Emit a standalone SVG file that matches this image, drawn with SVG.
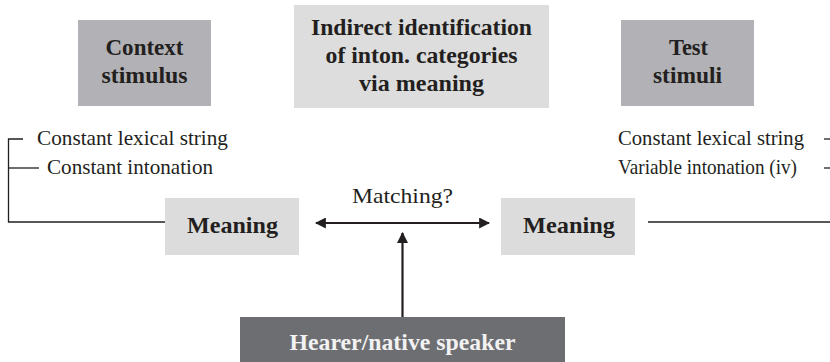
<svg xmlns="http://www.w3.org/2000/svg" width="830" height="362" viewBox="0 0 830 362">
<defs>
<style>
.hd{font-family:"Liberation Serif","Times New Roman",serif;font-weight:bold;font-size:23.5px;fill:#231f20;text-anchor:middle}
.mn{font-family:"Liberation Serif","Times New Roman",serif;font-weight:bold;font-size:23.5px;fill:#231f20;text-anchor:middle}
.bd{font-family:"Liberation Serif","Times New Roman",serif;font-size:21px;fill:#231f20}
.ln{stroke:#231f20;stroke-width:1.3;fill:none}
.ar{stroke:#231f20;stroke-width:2.2;fill:none}
</style>
<marker id="ah" viewBox="0 0 10 10" refX="9" refY="5" markerWidth="5" markerHeight="5" orient="auto-start-reverse" markerUnits="strokeWidth">
<path d="M0,0 L10,5 L0,10 z" fill="#231f20"/>
</marker>
</defs>
<rect width="830" height="362" fill="#ffffff"/>
<g id="context">
<rect x="78" y="20" width="133" height="86" fill="#b2b2b6"/>
<text class="hd" x="144.5" y="55" textLength="78" lengthAdjust="spacingAndGlyphs">Context</text>
<text class="hd" x="144.5" y="83" textLength="86" lengthAdjust="spacingAndGlyphs">stimulus</text>
</g>
<g id="title">
<rect x="294" y="5" width="255" height="103" fill="#dddddd"/>
<text class="hd" x="421.5" y="35" textLength="221" lengthAdjust="spacingAndGlyphs">Indirect identification</text>
<text class="hd" x="421.5" y="63" textLength="192" lengthAdjust="spacingAndGlyphs">of inton. categories</text>
<text class="hd" x="421.5" y="91" textLength="125" lengthAdjust="spacingAndGlyphs">via meaning</text>
</g>
<g id="test">
<rect x="621" y="20" width="133" height="86" fill="#b2b2b6"/>
<text class="hd" x="688.5" y="55" textLength="39" lengthAdjust="spacingAndGlyphs">Test</text>
<text class="hd" x="687.5" y="83" textLength="69" lengthAdjust="spacingAndGlyphs">stimuli</text>
</g>
<g id="left-labels">
<text class="bd" x="37" y="145" textLength="191" lengthAdjust="spacingAndGlyphs">Constant lexical string</text>
<text class="bd" x="47" y="174" textLength="166" lengthAdjust="spacingAndGlyphs">Constant intonation</text>
</g>
<g id="right-labels">
<text class="bd" x="618" y="145" textLength="186" lengthAdjust="spacingAndGlyphs">Constant lexical string</text>
<text class="bd" x="618" y="174" textLength="179" lengthAdjust="spacingAndGlyphs">Variable intonation (iv)</text>
</g>
<g id="meaning-left">
<rect x="165" y="198" width="134" height="57" fill="#dcdcdc"/>
<text class="mn" x="232.5" y="233" textLength="91" lengthAdjust="spacingAndGlyphs">Meaning</text>
</g>
<g id="meaning-right">
<rect x="501" y="198" width="134" height="57" fill="#dcdcdc"/>
<text class="mn" x="569" y="233" textLength="92" lengthAdjust="spacingAndGlyphs">Meaning</text>
</g>
<g id="hearer">
<rect x="240" y="317" width="325" height="50" fill="#6d6e72"/>
<text class="hd" x="402.5" y="350" style="fill:#f2f2f2" textLength="226" lengthAdjust="spacingAndGlyphs">Hearer/native speaker</text>
</g>
<g id="connectors">
<path class="ln" d="M23,139 H8.5 V222 H165"/>
<path class="ln" d="M8.5,168 H39"/>
<path class="ln" d="M648,222 H830"/>
<path class="ln" d="M824,139 H830"/>
<path class="ln" d="M824,168 H830"/>
<line class="ar" x1="316" y1="223" x2="489" y2="223" marker-start="url(#ah)" marker-end="url(#ah)"/>
<line class="ar" x1="402.5" y1="317" x2="402.5" y2="233" marker-end="url(#ah)"/>
<text class="bd" x="402.5" y="203" style="text-anchor:middle" textLength="101" lengthAdjust="spacingAndGlyphs">Matching?</text>
</g>
</svg>
